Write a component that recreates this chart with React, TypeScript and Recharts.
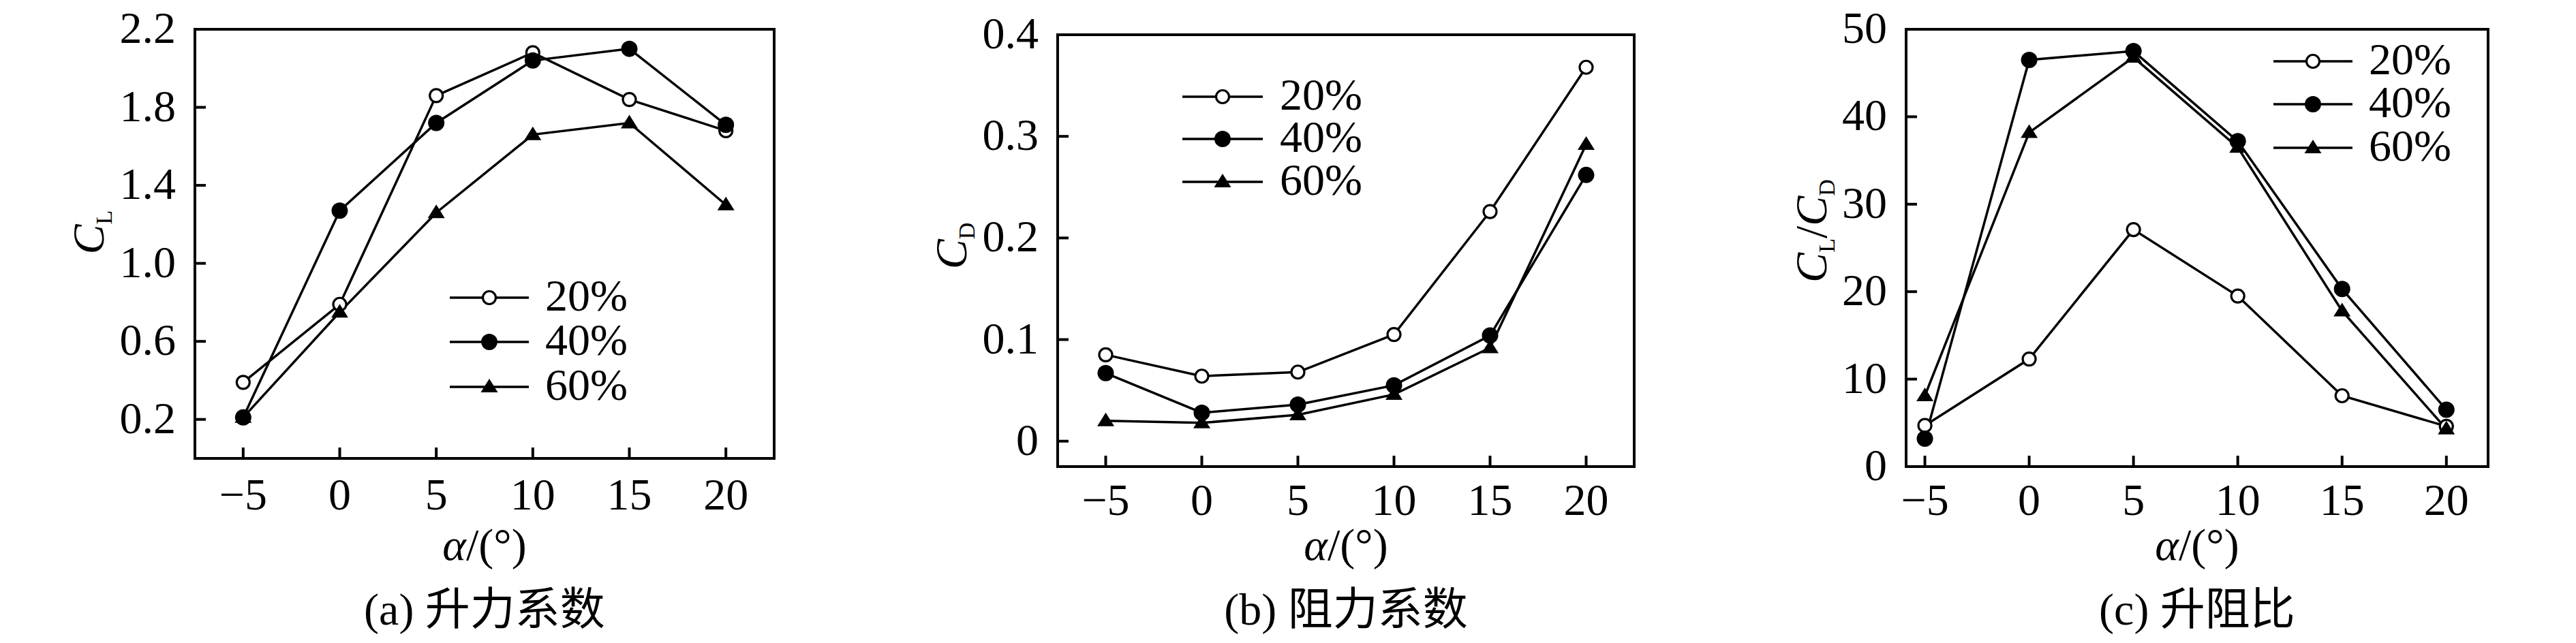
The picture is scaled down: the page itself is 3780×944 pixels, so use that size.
import { LineChart, Line, XAxis, YAxis, ReferenceArea, Legend } from "recharts";

const angles = [-5, 0, 5, 10, 15, 20];
const seriesNames = ["20%", "40%", "60%"];

// (a) lift coefficient
const lift20 = [0.39, 0.79, 1.86, 2.08, 1.84, 1.68];
const lift40 = [0.21, 1.27, 1.72, 2.04, 2.1, 1.71];
const lift60 = [0.21, 0.75, 1.26, 1.66, 1.72, 1.3];

// (b) drag coefficient
const drag20 = [0.085, 0.064, 0.068, 0.105, 0.226, 0.368];
const drag40 = [0.067, 0.028, 0.036, 0.055, 0.104, 0.262];
const drag60 = [0.02, 0.018, 0.026, 0.046, 0.092, 0.292];

// (c) lift-drag ratio
const ratio20 = [4.7, 12.3, 27.1, 19.5, 8.1, 4.6];
const ratio40 = [3.2, 46.5, 47.5, 37.2, 20.3, 6.5];
const ratio60 = [8.1, 38.2, 46.8, 36.5, 17.8, 4.3];

const liftTicks = [0.2, 0.6, 1.0, 1.4, 1.8, 2.2];
const dragTicks = [0, 0.1, 0.2, 0.3, 0.4];
const ratioTicks = [0, 10, 20, 30, 40, 50];

const FONT = "'Liberation Serif', 'Times New Roman', serif";
const CJK = "'Liberation Serif', 'Noto Sans CJK SC', serif";
const FS = 66;

const keys = ["s20", "s40", "s60"];
const markers = ["open", "filled", "tri"];

const makeRows = (a: number[], b: number[], c: number[]) =>
  angles.map((angle, i) => ({ angle, s20: a[i], s40: b[i], s60: c[i] }));

const Marker = ({ cx, cy, kind }: { cx?: number; cy?: number; kind: string }) => {
  if (cx == null || cy == null) return null;
  if (kind === "open")
    return <circle cx={cx} cy={cy} r={9.5} fill="#fff" stroke="#000" strokeWidth={3.2} />;
  if (kind === "filled") return <circle cx={cx} cy={cy} r={12} fill="#000" />;
  return (
    <polygon
      points={`${cx},${cy - 12} ${cx - 12.5},${cy + 8} ${cx + 12.5},${cy + 8}`}
      fill="#000"
    />
  );
};

const minus = (v: number) => (v < 0 ? `\u2212${Math.abs(v)}` : `${v}`);

type Panel = {
  offset: number;
  data: any[];
  plot: { left: number; top: number; right: number; bottom: number };
  xDomain: [number, number];
  yDomain: [number, number];
  yTicks: number[];
  yFormat: (v: number) => string;
  xTickDy: number;
  yTitle: { x: number; y: number; parts: [string, string][] };
  caption: string;
  legend: { start: number; end: number; mark: number; text: number; rows: number[] };
};

const panels: Panel[] = [
  {
    offset: 0,
    data: makeRows(lift20, lift40, lift60),
    plot: { left: 286, top: 43, right: 1136, bottom: 673 },
    xDomain: [-7.5, 22.5],
    yDomain: [0, 2.2],
    yTicks: liftTicks,
    yFormat: (v) => v.toFixed(1),
    xTickDy: 75,
    yTitle: { x: 152, y: 341, parts: [["C", "i"], ["L", "s"]] },
    caption: "(a) 升力系数",
    legend: { start: 660, end: 776, mark: 718, text: 800, rows: [437, 502, 568] },
  },
  {
    offset: 1260,
    data: makeRows(drag20, drag40, drag60),
    plot: { left: 292, top: 51, right: 1138, bottom: 685 },
    xDomain: [-7.5, 22.5],
    yDomain: [-0.025, 0.4],
    yTicks: dragTicks,
    yFormat: (v) => (v === 0 ? "0" : v.toFixed(1)),
    xTickDy: 71,
    yTitle: { x: 158, y: 361, parts: [["C", "i"], ["D", "s"]] },
    caption: "(b) 阻力系数",
    legend: { start: 475, end: 593, mark: 534, text: 618, rows: [142, 204, 267] },
  },
  {
    offset: 2520,
    data: makeRows(ratio20, ratio40, ratio60),
    plot: { left: 277, top: 43, right: 1131, bottom: 685 },
    xDomain: [-5.9, 22],
    yDomain: [0, 50],
    yTicks: ratioTicks,
    yFormat: (v) => `${v}`,
    xTickDy: 71,
    yTitle: {
      x: 160,
      y: 339,
      parts: [["C", "i"], ["L", "s"], ["/", "n"], ["C", "i"], ["D", "s"]],
    },
    caption: "(c) 升阻比",
    legend: { start: 816, end: 932, mark: 874, text: 956, rows: [90, 153, 217] },
  },
];

const YTitle = ({ x, y, parts }: Panel["yTitle"]) => {
  let shifted = false;
  return (
    <text
      x={x}
      y={y}
      transform={`rotate(-90 ${x} ${y})`}
      textAnchor="middle"
      fontFamily={FONT}
      fontSize={FS}
      fill="#000"
    >
      {parts.map(([t, k], i) => {
        let dy = 0;
        if (k === "s" && !shifted) {
          dy = 12;
          shifted = true;
        } else if (k !== "s" && shifted) {
          dy = -12;
          shifted = false;
        }
        return (
          <tspan
            key={i}
            dy={dy}
            fontSize={k === "s" ? 34 : FS}
            fontStyle={k === "i" ? "italic" : "normal"}
          >
            {t}
          </tspan>
        );
      })}
    </text>
  );
};

const ChartPanel = ({ p }: { p: Panel }) => {
  const { plot } = p;
  const cx = (plot.left + plot.right) / 2;
  const lg = p.legend;
  const renderLegend = (props: any) => {
    const entries = props.payload ?? [];
    return (
      <svg width={360} height={240} style={{ display: "block", overflow: "visible" }}>
        {entries.map((e: any, i: number) => {
          const idx = Math.max(0, keys.indexOf(e.dataKey));
          const y = lg.rows[i] - lg.rows[0] + 32;
          return (
            <g key={e.value}>
              <line x1={0} x2={lg.end - lg.start} y1={y} y2={y} stroke="#000" strokeWidth={3.5} />
              <Marker cx={lg.mark - lg.start} cy={y} kind={markers[idx]} />
              <text
                x={lg.text - lg.start}
                y={y + 19}
                fontFamily={FONT}
                fontSize={FS}
                fill="#000"
              >
                {e.value}
              </text>
            </g>
          );
        })}
      </svg>
    );
  };

  return (
    <div style={{ position: "absolute", left: p.offset, top: 0 }}>
      <LineChart
        width={1260}
        height={944}
        data={p.data}
        margin={{ top: plot.top, right: 1260 - plot.right, bottom: 0, left: 0 }}
      >
        <XAxis
          dataKey="angle"
          type="number"
          domain={p.xDomain}
          ticks={angles}
          allowDataOverflow
          height={944 - plot.bottom}
          axisLine={{ stroke: "#000", strokeWidth: 4 }}
          tickLine={{ stroke: "#000", strokeWidth: 4 }}
          tickSize={-16}
          tickMargin={16}
          tick={({ x, y, payload }: any) => (
            <text
              x={x}
              y={y + p.xTickDy}
              textAnchor="middle"
              fontFamily={FONT}
              fontSize={FS}
              fill="#000"
            >
              {minus(payload.value)}
            </text>
          )}
          label={{
            content: () => (
              <g>
                <text x={cx} y={822} textAnchor="middle" fontFamily={FONT} fontSize={FS} fill="#000">
                  <tspan fontStyle="italic">α</tspan>/(°)
                </text>
                <text x={cx} y={917} textAnchor="middle" fontFamily={CJK} fontSize={FS} fill="#000">
                  {p.caption}
                </text>
              </g>
            ),
          }}
        />
        <YAxis
          type="number"
          domain={p.yDomain}
          ticks={p.yTicks}
          allowDataOverflow
          width={plot.left}
          axisLine={{ stroke: "#000", strokeWidth: 4 }}
          tickLine={{ stroke: "#000", strokeWidth: 4 }}
          tickSize={-16}
          tickMargin={16}
          tick={({ x, y, payload }: any) => (
            <text
              x={x - 28}
              y={y + 20}
              textAnchor="end"
              fontFamily={FONT}
              fontSize={FS}
              fill="#000"
            >
              {p.yFormat(payload.value)}
            </text>
          )}
          label={{ content: () => <YTitle {...p.yTitle} /> }}
        />
        <ReferenceArea
          x1={p.xDomain[0]}
          x2={p.xDomain[1]}
          y1={p.yDomain[0]}
          y2={p.yDomain[1]}
          fill="none"
          fillOpacity={0}
          stroke="#000"
          strokeWidth={4}
          strokeOpacity={1}
        />
        {keys.map((k, i) => (
          <Line
            key={k}
            dataKey={k}
            name={seriesNames[i]}
            type="linear"
            stroke="#000"
            strokeWidth={3.5}
            isAnimationActive={false}
            dot={(d: any) => <Marker key={`${k}-${d.index}`} cx={d.cx} cy={d.cy} kind={markers[i]} />}
            activeDot={false}
          />
        ))}
        <Legend
          layout="vertical"
          align="center"
          verticalAlign="middle"
          content={renderLegend}
          wrapperStyle={{
            left: lg.start,
            top: lg.rows[0] - 32,
            width: 360,
            height: 240,
            right: "auto",
            bottom: "auto",
          }}
        />
      </LineChart>
    </div>
  );
};

export default function App() {
  return (
    <div style={{ position: "relative", width: 3780, height: 944, background: "#fff" }}>
      <style>{`body{margin:0;background:#fff}`}</style>
      {panels.map((p) => (
        <ChartPanel key={p.offset} p={p} />
      ))}
    </div>
  );
}
